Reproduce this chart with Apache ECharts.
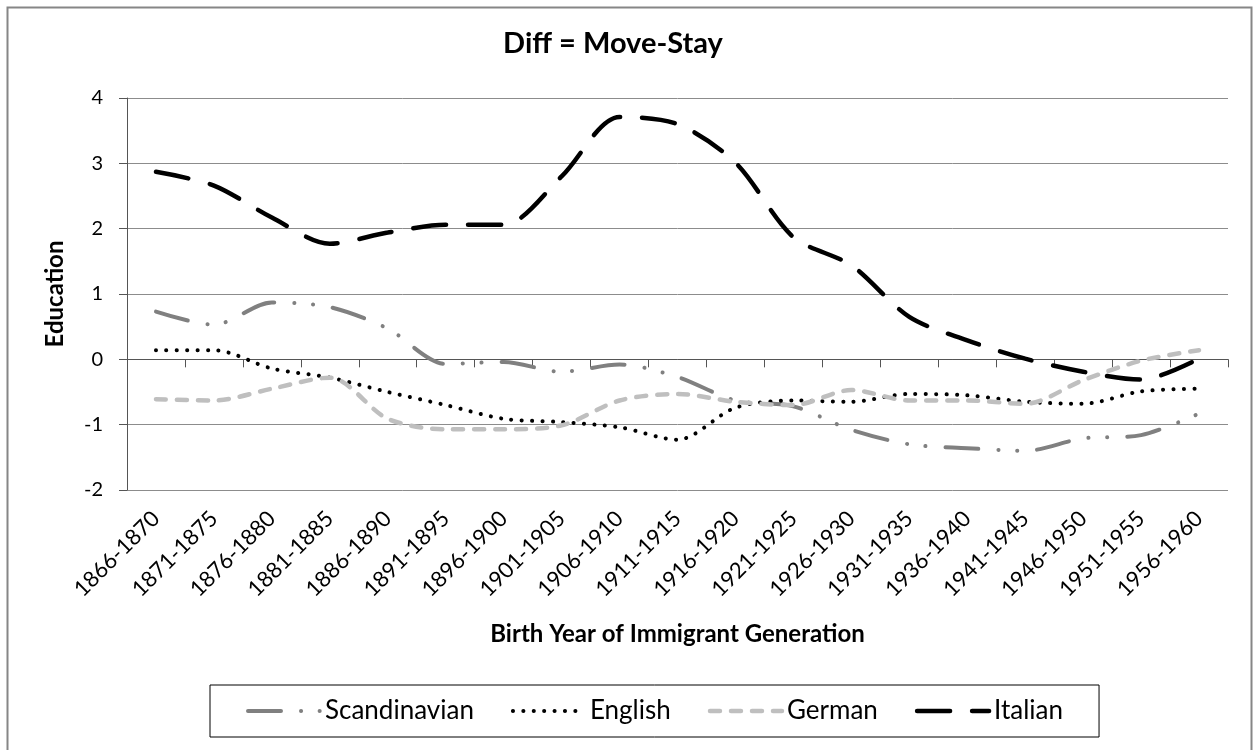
<!DOCTYPE html>
<html>
<head>
<meta charset="utf-8">
<script src="https://cdn.jsdelivr.net/npm/echarts@6/dist/echarts.min.js"></script>
<style>
html,body{margin:0;padding:0;background:#fff;}
#chart{width:1254px;height:750px;}
</style>
</head>
<body>
<div id="chart"></div>
<script>
var categories = ['1866-1870','1871-1875','1876-1880','1881-1885','1886-1890','1891-1895','1896-1900','1901-1905','1906-1910','1911-1915','1916-1920','1921-1925','1926-1930','1931-1935','1936-1940','1941-1945','1946-1950','1951-1955','1956-1960'];
var scandinavian = [0.73, 0.53, 0.87, 0.80, 0.47, -0.07, -0.04, -0.19, -0.08, -0.27, -0.63, -0.72, -1.08, -1.30, -1.36, -1.40, -1.21, -1.16, -0.83];
var english = [0.14, 0.14, -0.14, -0.28, -0.50, -0.70, -0.91, -0.96, -1.04, -1.23, -0.74, -0.63, -0.65, -0.53, -0.55, -0.65, -0.68, -0.49, -0.45];
var german = [-0.61, -0.63, -0.45, -0.28, -0.91, -1.07, -1.07, -1.01, -0.63, -0.53, -0.65, -0.70, -0.47, -0.63, -0.63, -0.68, -0.32, -0.02, 0.14];
var italian = [2.87, 2.66, 2.17, 1.77, 1.94, 2.06, 2.06, 2.80, 3.71, 3.60, 3.01, 1.87, 1.44, 0.65, 0.29, 0.01, -0.19, -0.31, 0.01];
var yTicks = [-2, -1, 0, 1, 2, 3, 4];

var FONT = 'Lato';
var chart = echarts.init(document.getElementById('chart'));
function lineSeries(name, data, color, width, dash) {
  return {
    name: name, type: 'line', data: data, smooth: 0.3,
    symbol: 'none', showSymbol: false,
    lineStyle: {color: color, width: width, type: dash, cap: 'round'},
    itemStyle: {color: color},
    emphasis: {disabled: true}
  };
}
chart.setOption({
  animation: false,
  textStyle: {fontFamily: FONT},
  title: {
    text: 'Diff = Move-Stay', left: 608, top: 24, textAlign: 'center',
    textStyle: {fontFamily: FONT, fontSize: 29, fontWeight: 'bold', color: '#000'}
  },
  graphic: [{
    type: 'rect', left: 5, top: 5, silent: true,
    shape: {width: 1244, height: 760},
    style: {fill: 'none', stroke: '#868686', lineWidth: 2}
  }],
  legend: {
    left: 210, top: 685,
    padding: [13, 36, 13, 36],
    borderColor: '#000', borderWidth: 1,
    itemWidth: 72, itemHeight: 14, itemGap: 37,
    itemStyle: {opacity: 0},
    lineStyle: {width: 'inherit'},
    textStyle: {fontFamily: FONT, fontSize: 26, color: '#000'},
    data: ['Scandinavian', 'English', 'German', 'Italian']
  },
  grid: {left: 127, right: 26, top: 98, bottom: 260, containLabel: false},
  xAxis: {
    type: 'category', data: categories, boundaryGap: true,
    name: 'Birth Year of Immigrant Generation', nameLocation: 'middle', nameGap: 132,
    nameTextStyle: {fontFamily: FONT, fontSize: 24, fontWeight: 'bold', color: '#000'},
    axisLine: {lineStyle: {color: '#555', width: 1}},
    axisTick: {show: true, inside: false, length: 8, alignWithLabel: false, interval: 0, lineStyle: {color: '#555'}},
    axisLabel: {interval: 0, rotate: 45, margin: 25, fontFamily: FONT, fontSize: 22, color: '#000'},
    splitLine: {show: false}
  },
  yAxis: {
    type: 'value', min: -2, max: 4, interval: 1,
    name: 'Education', nameLocation: 'middle', nameGap: 60, nameRotate: 90,
    nameTextStyle: {fontFamily: FONT, fontSize: 24, fontWeight: 'bold', color: '#000'},
    axisLine: {show: true, lineStyle: {color: '#555', width: 1}},
    axisTick: {show: true, inside: false, length: 8, lineStyle: {color: '#555'}},
    axisLabel: {margin: 24, fontFamily: FONT, fontSize: 20, color: '#000',
      formatter: function (v) { return yTicks.indexOf(v) >= 0 ? String(v) : ''; }},
    splitLine: {show: true, lineStyle: {color: '#8c8c8c', width: 1}}
  },
  series: [
    lineSeries('Scandinavian', scandinavian, '#808080', 4, [33, 20, 0.1, 18.5, 0.1, 20]),
    lineSeries('English', english, '#000000', 4, [0.1, 10.3]),
    lineSeries('German', german, '#bfbfbf', 4.5, [10, 11]),
    lineSeries('Italian', italian, '#000000', 4.5, [33, 22])
  ]
});
</script>
</body>
</html>
